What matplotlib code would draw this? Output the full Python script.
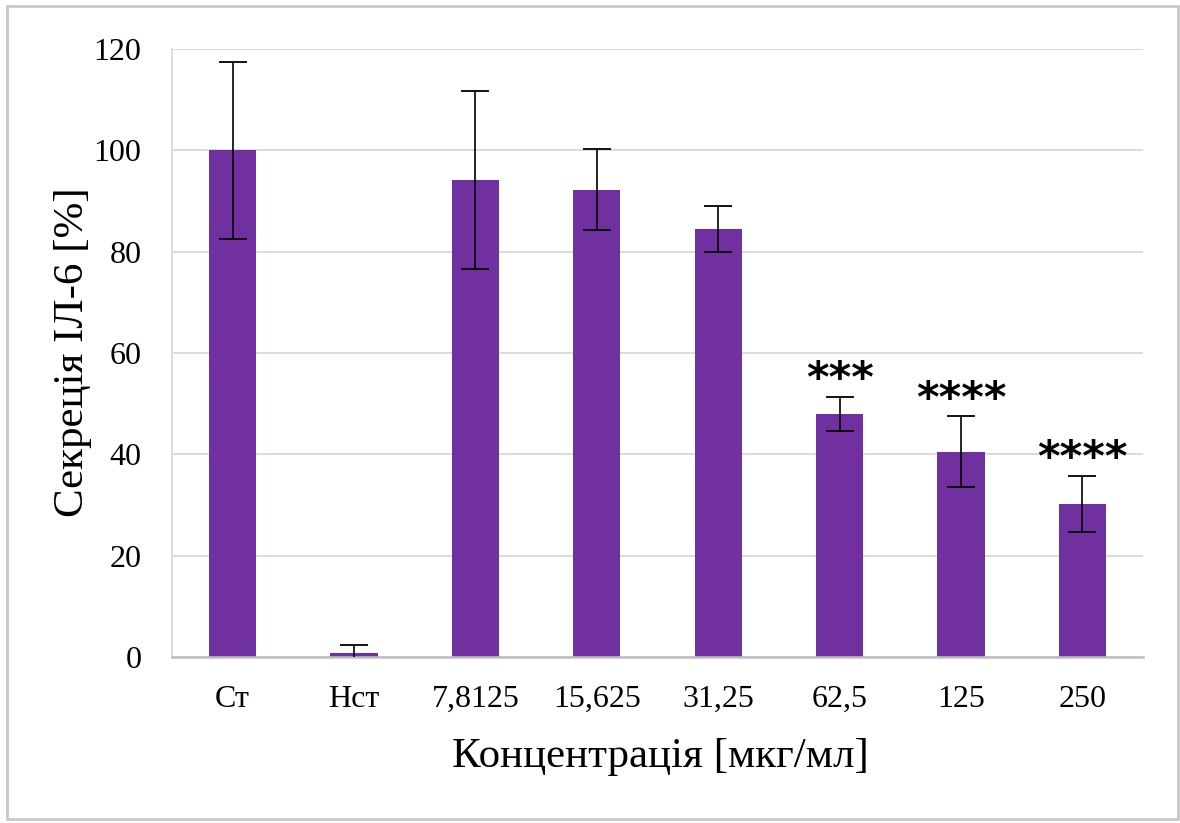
import matplotlib
matplotlib.use("Agg")
import matplotlib.pyplot as plt
from matplotlib.patches import Rectangle
import numpy as np

# дані
categories = ["Ст", "Нст", "7,8125", "15,625", "31,25", "62,5", "125", "250"]
values = [100.0, 0.7, 94.1, 92.2, 84.5, 48.0, 40.5, 30.2]
errors = [17.5, 1.6, 17.6, 8.0, 4.5, 3.3, 7.0, 5.6]
stars = ["", "", "", "", "", "***", "****", "****"]

BAR_COLOR = "#7030A0"
plt.rcParams["font.family"] = ["Liberation Serif", "DejaVu Serif"]

fig = plt.figure(figsize=(11.8, 8.23), dpi=100)
ax = fig.add_axes([172 / 1180, 1 - 657 / 823, (1143 - 172) / 1180, (657 - 49) / 823])

x = np.arange(len(categories))
ax.bar(x, values, width=0.39, color=BAR_COLOR, zorder=2)
ax.errorbar(x, values, yerr=errors, fmt="none", ecolor="black",
            elinewidth=1.2, capsize=10, capthick=1.3, zorder=3)

# зірочки значущості над стовпцями
for xi, v, e, s in zip(x, values, errors, stars):
    if s:
        ax.text(xi, v + e + 3.3, s, ha="center", va="center", fontsize=31,
                family="DejaVu Sans", fontweight="bold")

ax.set_xlim(-0.5, len(categories) - 0.5)
ax.set_ylim(0, 120)
ax.set_yticks(range(0, 121, 20))
ax.set_xticks(x)
ax.set_xticklabels(categories)
ax.tick_params(axis="both", length=0, labelsize=23)
ax.tick_params(axis="x", pad=20)
ax.tick_params(axis="y", pad=22)
ax.grid(axis="y", color="#D9D9D9", linewidth=1.3, zorder=0)
ax.set_axisbelow(True)

for side in ["top", "right"]:
    ax.spines[side].set_visible(False)
ax.spines["left"].set_color("#D9D9D9")
ax.spines["left"].set_linewidth(1.3)
ax.spines["bottom"].set_color("#BFBFBF")
ax.spines["bottom"].set_linewidth(1.8)

fig.text(660 / 1180, 1 - 757 / 823, "Концентрація [мкг/мл]", ha="center", va="center", fontsize=31)
fig.text(73 / 1180, 1 - 352 / 823, "Секреція ІЛ-6 [%]", ha="center", va="center",
         rotation=90, fontsize=31)

# рамка навколо рисунка
fig.patches.append(Rectangle((7 / 1180, 1 - 819 / 823), (1178 - 7) / 1180, (819 - 6) / 823,
                             transform=fig.transFigure, fill=False,
                             edgecolor="#C8C8C8", linewidth=2))

fig.savefig("out.png", dpi=100)
